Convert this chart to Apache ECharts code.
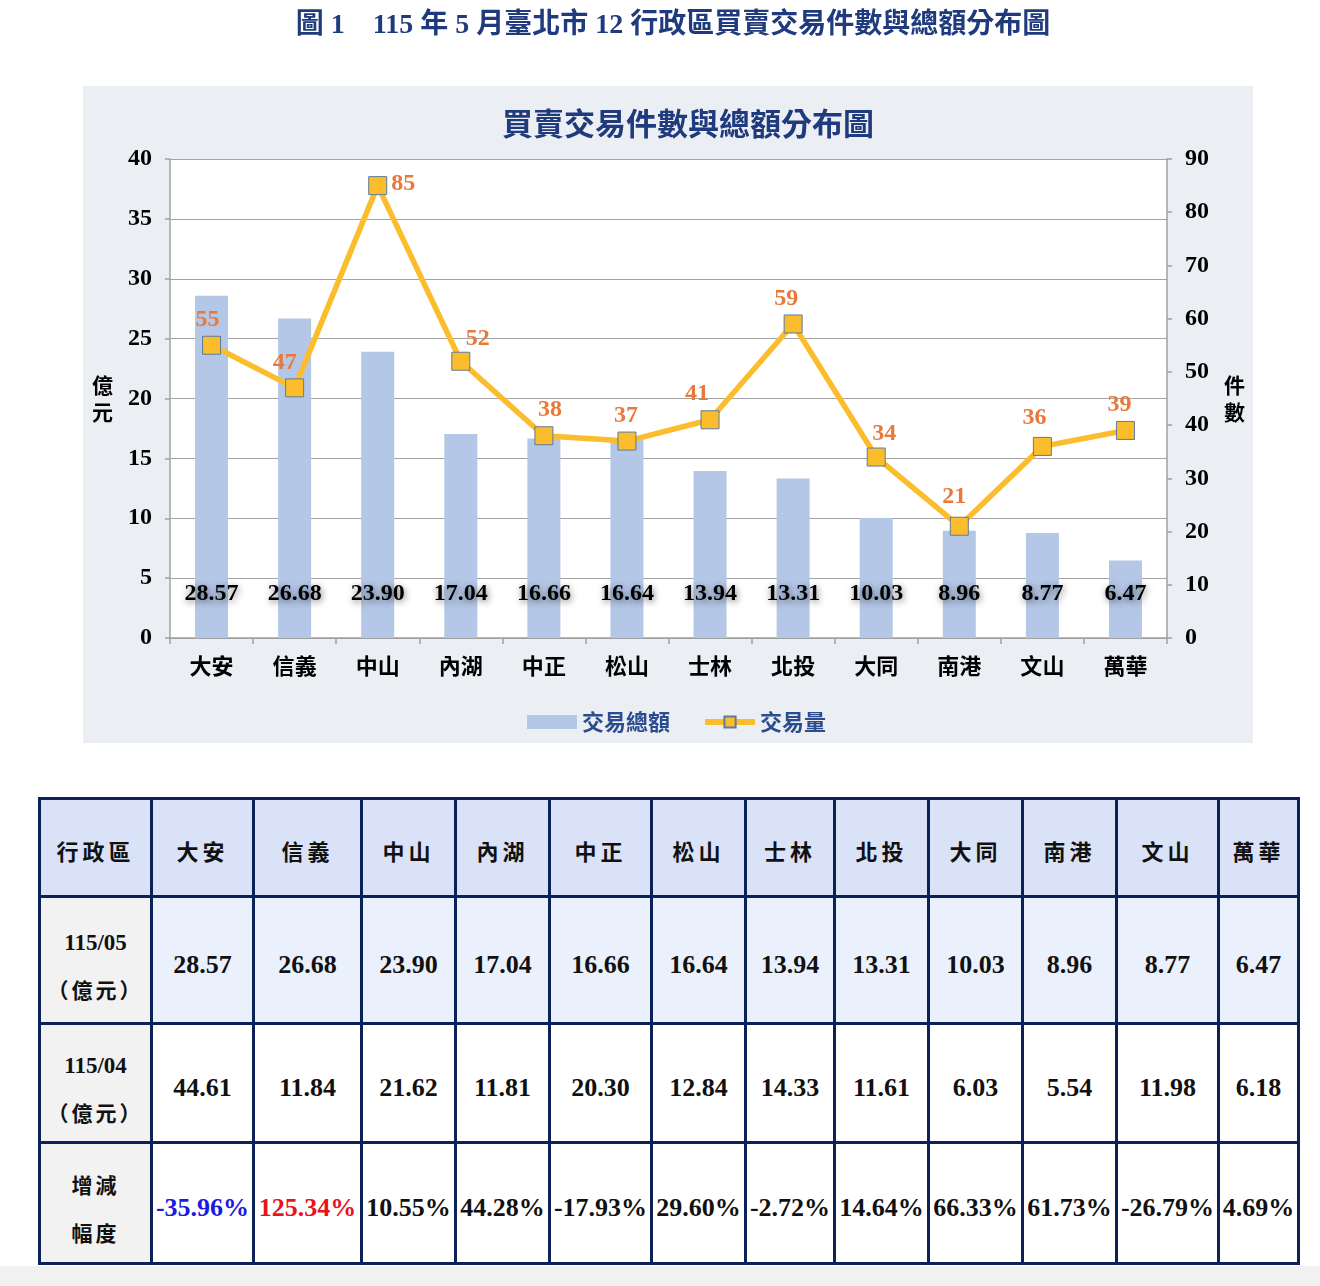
<!DOCTYPE html>
<html><head><meta charset="utf-8">
<script src="https://cdn.jsdelivr.net/npm/echarts@6/dist/echarts.min.js"></script>
<style>
html,body{margin:0;padding:0;background:#fff;width:1320px;height:1286px;overflow:hidden;}
#chart{position:absolute;left:0;top:0;width:1320px;height:770px;}
#strip{position:absolute;left:0;top:1266px;width:1320px;height:20px;background:#f1f1f1;}
#tbl{position:absolute;left:38px;top:797px;border-collapse:collapse;table-layout:fixed;width:1259px;}
#tbl td{border:3px solid #0b2259;text-align:center;vertical-align:middle;padding:10px 0 0 0;
  font-family:'Liberation Serif','Noto Sans CJK TC',serif;font-weight:bold;color:#111;font-size:26px;white-space:nowrap;}
#tbl tr.h td{background:#dae2f8;font-family:'Noto Sans CJK TC',sans-serif;font-size:22px;letter-spacing:4px;padding-top:5px;}
#tbl tr.r1 td{background:#eaf0fc;}
#tbl tr.r2 td,#tbl tr.r3 td{background:#fff;}
#tbl td.lab{background:#f2f2f2 !important;font-size:23px;line-height:47px;padding-top:12px;}
#tbl td.lab .cjk{font-family:'Noto Sans CJK TC',sans-serif;font-size:21px;letter-spacing:3px;}
</style>
</head><body>
<div id="chart"></div>
<table id="tbl"></table>
<div id="strip"></div>
<script>
// ---- data ----
const categories = ['大安','信義','中山','內湖','中正','松山','士林','北投','大同','南港','文山','萬華'];
const amountMay = [28.57,26.68,23.90,17.04,16.66,16.64,13.94,13.31,10.03,8.96,8.77,6.47];
const countMay = [55,47,85,52,38,37,41,59,34,21,36,39];
const amountApr = [44.61,11.84,21.62,11.81,20.30,12.84,14.33,11.61,6.03,5.54,11.98,6.18];
const changePct = ['-35.96%','125.34%','10.55%','44.28%','-17.93%','29.60%','-2.72%','14.64%','66.33%','61.73%','-26.79%','4.69%'];
const rowLabels = ['115/05','115/04','增減'];
const seriesNames = ['交易總額','交易量'];

// ---- styles (label placement per point) ----
const labelPos = ['top','top','right','top','top','top','top','top','top','top','top','top'];
const labelOff = [[-4,0],[-10,0],[0,-2],[17,3],[6,0],[-1,0],[-13,0],[-7,0],[8,2],[-5,-4],[-8,-3],[-6,0]];

const SERIF = "'Liberation Serif','Noto Sans CJK TC',serif";
const CJK = "'Noto Sans CJK TC','Liberation Serif',sans-serif";
const NAVY = '#1f3a7d';

const chart = echarts.init(document.getElementById('chart'), null, {renderer:'canvas'});
chart.setOption({
  animation:false,
  backgroundColor:'#fff',
  title:[
    {text:'圖 1　115 年 5 月臺北市 12 行政區買賣交易件數與總額分布圖', left:668, textAlign:'center', top:7,
     textStyle:{fontFamily:SERIF,fontSize:28,fontWeight:'bold',color:NAVY}},
    {text:'買賣交易件數與總額分布圖', left:683, textAlign:'center', top:103,
     textStyle:{fontFamily:CJK,fontSize:31,fontWeight:'bold',color:NAVY}}
  ],
  graphic:[
    {type:'rect', shape:{x:83,y:86,width:1170,height:657}, style:{fill:'#ebeef2'}, z:-10, silent:true},
    {type:'rect', shape:{x:170,y:159,width:997,height:479}, style:{fill:'#ffffff'}, z:-9, silent:true}
  ],
  grid:{left:170,top:159,width:997,height:479,containLabel:false},
  legend:{
    top:706, left:522, itemGap:32,
    textStyle:{fontFamily:CJK,fontSize:22,fontWeight:'bold',color:'#2b4d8f'},
    data:[
      {name:seriesNames[0], icon:'rect', itemStyle:{color:'#b4c7e7'}},
      {name:seriesNames[1], lineStyle:{width:6,color:'#fbbd2c'}}
    ],
    itemWidth:50, itemHeight:14
  },
  xAxis:{
    type:'category', data:categories,
    axisLine:{lineStyle:{color:'#a0a0a0',width:1.5}},
    axisTick:{show:true,alignWithLabel:false,length:6,lineStyle:{color:'#a0a0a0',width:1.5}},
    axisLabel:{margin:17,fontFamily:CJK,fontSize:22,fontWeight:'bold',color:'#000'}
  },
  yAxis:[
    {type:'value',min:0,max:40,interval:5,
     name:'億\n元',nameLocation:'middle',nameGap:57,nameRotate:0,
     nameTextStyle:{fontFamily:CJK,fontSize:21,fontWeight:'bold',color:'#000',lineHeight:27},
     axisLine:{show:true,lineStyle:{color:'#a0a0a0',width:1.5}},
     axisTick:{show:true,length:5,lineStyle:{color:'#a0a0a0',width:1.5}},
     axisLabel:{margin:18,fontFamily:SERIF,fontSize:24,fontWeight:'bold',color:'#000'},
     splitLine:{show:true,lineStyle:{color:'#a3a3a3',width:1.2}}},
    {type:'value',min:0,max:90,interval:10,position:'right',
     name:'件\n數',nameLocation:'middle',nameGap:57,nameRotate:0,
     nameTextStyle:{fontFamily:CJK,fontSize:21,fontWeight:'bold',color:'#000',lineHeight:27},
     axisLine:{show:true,lineStyle:{color:'#a0a0a0',width:1.5}},
     axisTick:{show:true,length:5,lineStyle:{color:'#a0a0a0',width:1.5}},
     axisLabel:{margin:18,fontFamily:SERIF,fontSize:24,fontWeight:'bold',color:'#000'},
     splitLine:{show:false}}
  ],
  series:[
    {name:seriesNames[0], type:'bar', data:amountMay, barWidth:33, yAxisIndex:0,
     itemStyle:{color:'#b4c7e7'},
     label:{show:true,position:'insideBottom',distance:32,
       formatter:p=>p.value.toFixed(2),
       fontFamily:SERIF,fontSize:24,fontWeight:'bold',color:'#000',
       textShadowColor:'rgba(0,0,0,0.55)',textShadowBlur:7,textShadowOffsetX:1,textShadowOffsetY:2}},
    {name:seriesNames[1], type:'line', yAxisIndex:1, z:5,
     data:countMay.map((v,i)=>({value:v,label:{position:labelPos[i],offset:labelOff[i]}})),
     lineStyle:{color:'#fbbd2c',width:5.5},
     itemStyle:{color:'#fbbd2c',borderColor:'#5b7c9c',borderWidth:1},
     symbol:'rect', symbolSize:18,
     label:{show:true,fontFamily:SERIF,fontSize:24,fontWeight:'bold',color:'#e8793a',distance:4}}
  ]
});

// ---- table ----
const colW = [112,102,108,94,94,102,94,89,94,94,94,102,80];
const tbl = document.getElementById('tbl');
const cg = document.createElement('colgroup');
colW.forEach(w=>{const c=document.createElement('col');c.style.width=w+'px';cg.appendChild(c);});
tbl.appendChild(cg);
function row(cls,h,cells){
  const tr=document.createElement('tr');tr.className=cls;tr.style.height=h+'px';
  cells.forEach(c=>tr.appendChild(c));tbl.appendChild(tr);
}
function td(html,cls,color){const d=document.createElement('td');d.innerHTML=html;if(cls)d.className=cls;if(color)d.style.color=color;return d;}
row('h',98,[td('行政區')].concat(categories.map(c=>td(c))));
row('r1',127,[td(rowLabels[0]+'<br><span class="cjk">（億元）</span>','lab')].concat(amountMay.map(v=>td(v.toFixed(2)))));
row('r2',119,[td(rowLabels[1]+'<br><span class="cjk">（億元）</span>','lab')].concat(amountApr.map(v=>td(v.toFixed(2)))));
const nums = changePct.map(s=>parseFloat(s));
const mx = Math.max(...nums), mn = Math.min(...nums);
row('r3',121,[td('<span class="cjk">增減<br>幅度</span>','lab')].concat(changePct.map((s,i)=>td(s,null,nums[i]===mx?'#e8141b':(nums[i]===mn?'#1a1ae0':null)))));
</script>
</body></html>
